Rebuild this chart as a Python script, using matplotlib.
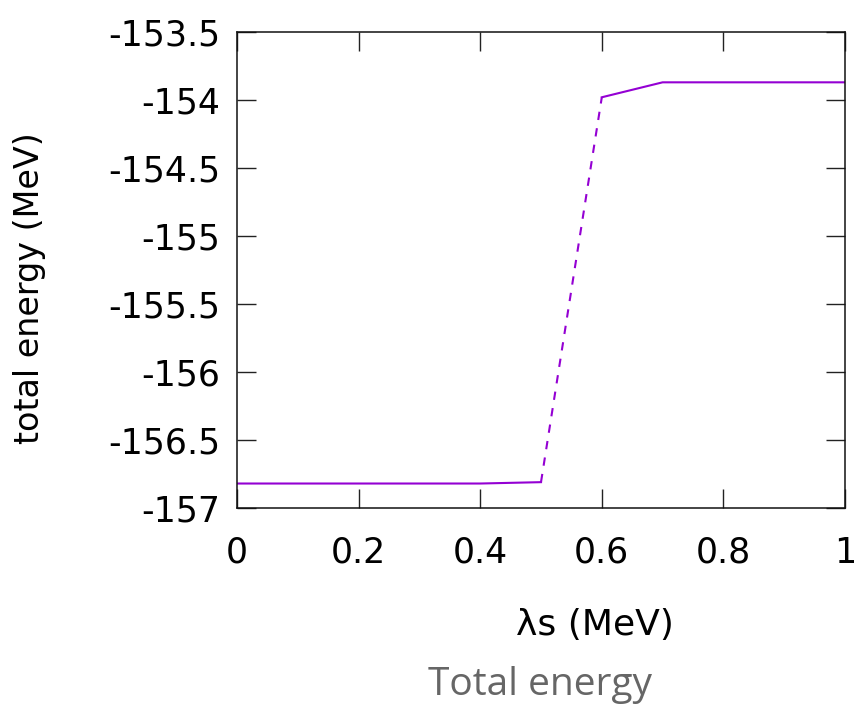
import matplotlib
matplotlib.use("Agg")
import matplotlib.pyplot as plt
from matplotlib.ticker import FuncFormatter, MultipleLocator

lam = [0.0, 0.1, 0.2, 0.3, 0.4, 0.5, 0.6, 0.7, 0.8, 0.9, 1.0]
energy = [-156.82, -156.82, -156.82, -156.82, -156.82, -156.81,
          -153.98, -153.87, -153.87, -153.87, -153.87]

xlabel = "λs (MeV)"
ylabel = "total energy (MeV)"
title = "Total energy"

plt.rcParams['font.family'] = ['DejaVu Sans']
fig = plt.figure(figsize=(8.61, 7.11), dpi=100)
ax = fig.add_axes([237/861, 1-508/711, (845-237)/861, (508-32)/711])

color = '#9400D3'
ax.plot(lam[:6], energy[:6], color=color, lw=1.5)
ax.plot(lam[5:7], energy[5:7], color=color, lw=1.5, ls=(0, (4, 4)))
ax.plot(lam[6:], energy[6:], color=color, lw=1.5)

ax.set_xlim(0, 1)
ax.set_ylim(-157, -153.5)
ax.xaxis.set_major_locator(MultipleLocator(0.2))
ax.yaxis.set_major_locator(MultipleLocator(0.5))
fmt = FuncFormatter(lambda v, p: ('%g' % round(v, 6)))
ax.xaxis.set_major_formatter(fmt)
ax.yaxis.set_major_formatter(fmt)
ax.tick_params(direction='in', length=14, width=1, top=True, right=True,
               labelsize=25, color='#222222')
ax.tick_params(axis='x', pad=20)
ax.tick_params(axis='y', pad=12)
for s in ax.spines.values():
    s.set_color('#111111')
    s.set_linewidth(1.1)

fig.text(595/861, 1-625/711, xlabel, ha='center', va='center', fontsize=26)
fig.text(30/861, 1-288/711, ylabel, ha='center', va='center', fontsize=24,
         rotation=90)
fig.text(540/861, 1-685/711, title, ha='center', va='center', fontsize=28,
         color='#666666', family=['Open Sans', 'DejaVu Sans'])

fig.savefig("out.png", dpi=100)
